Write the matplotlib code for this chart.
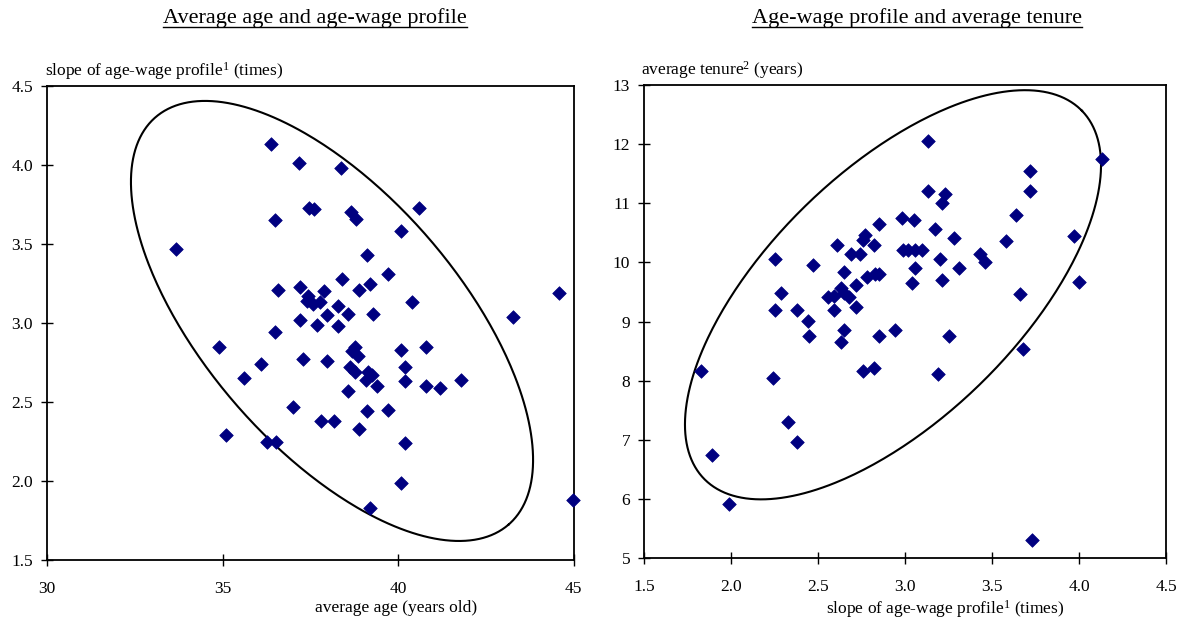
import numpy as np
import matplotlib
matplotlib.use("Agg")
import matplotlib.pyplot as plt
from matplotlib.lines import Line2D

plt.rcParams['font.family'] = ['Liberation Serif', 'DejaVu Serif']
plt.rcParams['mathtext.fontset'] = 'custom'
plt.rcParams['mathtext.rm'] = 'Liberation Serif'
plt.rcParams['mathtext.it'] = 'Liberation Serif'

# left panel: average age vs slope of age-wage profile
avg_age = [33.68, 36.38, 37.18, 36.50, 37.46, 37.61, 38.38, 38.66, 38.80, 40.60,
           40.09, 39.11, 38.40, 39.71, 39.19, 38.89, 37.89, 37.44, 37.40, 37.59,
           37.78, 36.59, 37.21, 38.30, 40.39, 37.21, 37.70, 37.99, 38.58, 38.30,
           39.30, 36.50, 34.91, 37.30, 37.99, 36.09, 35.61, 38.68, 38.77, 38.87,
           38.63, 38.77, 39.15, 39.25, 39.09, 39.39, 40.09, 40.79, 40.20, 38.58,
           40.20, 40.79, 41.20, 41.79, 44.60, 43.28, 37.00, 39.11, 39.71, 37.80,
           38.19, 38.90, 35.10, 36.28, 36.52, 40.20, 40.09, 39.20, 44.99]
slope_left = [3.47, 4.13, 4.01, 3.65, 3.73, 3.72, 3.98, 3.70, 3.66, 3.73,
              3.58, 3.43, 3.28, 3.31, 3.25, 3.21, 3.20, 3.17, 3.14, 3.12,
              3.13, 3.21, 3.23, 3.11, 3.13, 3.02, 2.99, 3.05, 3.06, 2.98,
              3.06, 2.94, 2.85, 2.77, 2.76, 2.74, 2.65, 2.82, 2.85, 2.79,
              2.72, 2.69, 2.69, 2.67, 2.64, 2.60, 2.83, 2.85, 2.72, 2.57,
              2.63, 2.60, 2.59, 2.64, 3.19, 3.04, 2.47, 2.44, 2.45, 2.38,
              2.38, 2.33, 2.29, 2.25, 2.25, 2.24, 1.99, 1.83, 1.88]

# right panel: slope of age-wage profile vs average tenure
slope_right = [1.83, 1.89, 1.99, 2.24, 2.25, 2.29, 2.25, 2.33, 2.38, 2.38,
               2.44, 2.45, 2.47, 2.61, 2.59, 2.56, 2.59, 2.63, 2.65, 2.68,
               2.72, 2.65, 2.65, 2.63, 2.72, 2.69, 2.74, 2.77, 2.76, 2.82,
               2.85, 2.78, 2.83, 2.85, 2.85, 2.94, 2.76, 2.82, 2.98, 3.05,
               2.99, 3.02, 3.06, 3.10, 3.06, 3.04, 3.13, 3.13, 3.23, 3.21,
               3.17, 3.28, 3.20, 3.31, 3.21, 3.43, 3.46, 3.58, 3.64, 3.72,
               3.72, 4.13, 3.97, 4.00, 3.66, 3.68, 3.25, 3.19, 3.73]
tenure = [8.16, 6.75, 5.91, 8.05, 10.05, 9.49, 9.19, 7.30, 6.96, 9.19,
          9.01, 8.75, 9.95, 10.30, 9.19, 9.42, 9.43, 9.56, 9.48, 9.42,
          9.25, 9.84, 8.86, 8.66, 9.61, 10.15, 10.15, 10.46, 10.38, 10.30,
          10.65, 9.76, 9.80, 9.80, 8.75, 8.86, 8.17, 8.21, 10.75, 10.71,
          10.21, 10.21, 10.21, 10.21, 9.90, 9.65, 12.05, 11.21, 11.16, 11.00,
          10.56, 10.41, 10.05, 9.90, 9.71, 10.15, 10.00, 10.36, 10.80, 11.55,
          11.21, 11.75, 10.45, 9.66, 9.46, 8.54, 8.75, 8.11, 5.31]

# ellipses: centre, major and minor semi-axis vectors (data units)
ell_left = dict(c=(38.12, 3.013), u=(5.03, -1.289), v=(-2.741, -0.527))
ell_right = dict(c=(2.931, 9.452), u=(1.086, 3.112), v=(0.50, -1.513))

marker_col = '#000080'
fs = 12.5

fig = plt.figure(figsize=(11.84, 6.18), dpi=100)
ax1 = fig.add_axes([47 / 1184, 1 - 560 / 618, 526.5 / 1184, 474 / 618])
ax2 = fig.add_axes([644 / 1184, 1 - 558 / 618, 522 / 1184, 473 / 618])


def draw_ellipse(ax, e):
    t = np.linspace(0, 2 * np.pi, 400)
    x = e['c'][0] + e['u'][0] * np.cos(t) + e['v'][0] * np.sin(t)
    y = e['c'][1] + e['u'][1] * np.cos(t) + e['v'][1] * np.sin(t)
    ax.plot(x, y, color='black', lw=1.5, zorder=2)


def style_axes(ax):
    for s in ax.spines.values():
        s.set_linewidth(1.3)
        s.set_color('black')
    ax.tick_params(axis='both', direction='inout', length=8, width=1,
                   labelsize=fs, right=False, top=False)
    ax.tick_params(axis='x', pad=11)
    ax.tick_params(axis='y', pad=6)


# left
ax1.scatter(avg_age, slope_left, marker='D', s=48, color=marker_col,
            edgecolor=marker_col, linewidth=0.5, zorder=3, clip_on=False)
draw_ellipse(ax1, ell_left)
ax1.set_xlim(30, 45)
ax1.set_ylim(1.5, 4.5)
ax1.set_xticks([30, 35, 40, 45])
ax1.set_yticks(np.arange(1.5, 4.51, 0.5))
ax1.set_yticklabels(['%.1f' % v for v in np.arange(1.5, 4.51, 0.5)])
style_axes(ax1)
ax1.annotate(r'slope of age-wage profile$^{1}$ (times)', xy=(0, 1),
             xycoords='axes fraction', xytext=(-1.5, 3), textcoords='offset points',
             ha='left', va='bottom', fontsize=fs)
ax1.text(0.663, -0.102, r'average age (years old)', transform=ax1.transAxes,
         ha='center', va='center', fontsize=fs)

# right
ax2.scatter(slope_right, tenure, marker='D', s=48, color=marker_col,
            edgecolor=marker_col, linewidth=0.5, zorder=3, clip_on=False)
draw_ellipse(ax2, ell_right)
ax2.set_xlim(1.5, 4.5)
ax2.set_ylim(5, 13)
ax2.set_xticks(np.arange(1.5, 4.51, 0.5))
ax2.set_xticklabels(['%.1f' % v for v in np.arange(1.5, 4.51, 0.5)])
ax2.set_yticks(range(5, 14))
style_axes(ax2)
ax2.annotate(r'average tenure$^{2}$ (years)', xy=(0, 1),
             xycoords='axes fraction', xytext=(-2.5, 3), textcoords='offset points',
             ha='left', va='bottom', fontsize=fs)
ax2.text(0.577, -0.108, r'slope of age-wage profile$^{1}$ (times)', transform=ax2.transAxes,
         ha='center', va='center', fontsize=fs)

# underlined panel titles
t1 = fig.text(315 / 1184, 1 - 18 / 618, 'Average age and age-wage profile',
              ha='center', va='center', fontsize=16)
t2 = fig.text(917 / 1184, 1 - 18 / 618, 'Age-wage profile and average tenure',
              ha='center', va='center', fontsize=16)
fig.canvas.draw()
renderer = fig.canvas.get_renderer()
for t in (t1, t2):
    bb = t.get_window_extent(renderer).transformed(fig.transFigure.inverted())
    yl = bb.y0 + 1.0 / 618
    fig.add_artist(Line2D([bb.x0, bb.x1], [yl, yl], transform=fig.transFigure,
                          color='black', lw=1.0))

fig.savefig('out.png', dpi=100)
